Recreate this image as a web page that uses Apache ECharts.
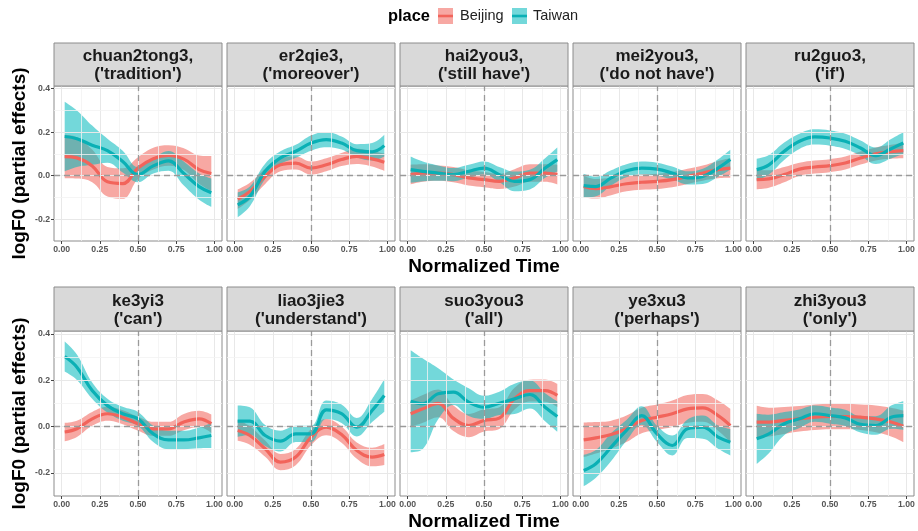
<!DOCTYPE html>
<html>
<head>
<meta charset="utf-8">
<script src="https://cdn.jsdelivr.net/npm/echarts@6/dist/echarts.min.js"></script>
<style>
  html, body { margin: 0; padding: 0; background: #fff; }
  #main { width: 918px; height: 531px; }
</style>
</head>
<body>
<div id="main"></div>
<script>
// 归一化时间上的取样点
var xs = [0.02, 0.1, 0.2, 0.3, 0.4, 0.5, 0.6, 0.7, 0.8, 0.9, 0.98];

var words = ['chuan2tong3,', 'er2qie3,', 'hai2you3,', 'mei2you3,', 'ru2guo3,',
             'ke3yi3', 'liao3jie3', 'suo3you3', 'ye3xu3', 'zhi3you3'];
var glosses = ["('tradition')", "('moreover')", "('still have')", "('do not have')", "('if')",
               "('can')", "('understand')", "('all')", "('perhaps')", "('only')"];

// Beijing 拟合值
var beijingFit = [
  [0.088, 0.082, 0.045, -0.028, -0.036, 0.035, 0.078, 0.093, 0.076, 0.028, 0.01],
  [-0.108, -0.072, -0.003, 0.05, 0.058, 0.035, 0.05, 0.074, 0.089, 0.077, 0.062],
  [0.005, 0.012, 0.012, 0.005, -0.01, -0.018, -0.026, -0.01, 0.012, 0.012, 0.005],
  [-0.05, -0.06, -0.05, -0.037, -0.03, -0.026, -0.018, -0.003, 0.012, 0.028, 0.035],
  [-0.018, -0.015, 0.005, 0.03, 0.04, 0.046, 0.058, 0.081, 0.1, 0.11, 0.115],
  [-0.024, -0.01, 0.033, 0.055, 0.04, 0.012, -0.01, -0.01, 0.019, 0.033, 0.012],
  [-0.017, -0.039, -0.096, -0.154, -0.132, -0.046, -0.003, -0.035, -0.104, -0.132, -0.121],
  [0.055, 0.076, 0.1, 0.035, 0.004, 0.026, 0.036, 0.12, 0.155, 0.155, 0.134],
  [-0.058, -0.049, -0.035, -0.01, 0.026, 0.04, 0.055, 0.076, 0.08, 0.047, 0.004],
  [0.019, 0.019, 0.026, 0.033, 0.04, 0.043, 0.043, 0.04, 0.033, 0.019, 0.001]
];
// Beijing 置信带半宽
var beijingCI = [
  [0.1, 0.095, 0.075, 0.068, 0.07, 0.05, 0.05, 0.047, 0.05, 0.065, 0.08],
  [0.045, 0.04, 0.035, 0.03, 0.03, 0.03, 0.03, 0.03, 0.035, 0.035, 0.04],
  [0.045, 0.04, 0.035, 0.035, 0.035, 0.035, 0.035, 0.04, 0.04, 0.04, 0.045],
  [0.05, 0.045, 0.04, 0.035, 0.035, 0.035, 0.035, 0.035, 0.035, 0.04, 0.045],
  [0.044, 0.04, 0.035, 0.03, 0.03, 0.03, 0.03, 0.03, 0.03, 0.032, 0.035],
  [0.04, 0.035, 0.03, 0.03, 0.03, 0.03, 0.03, 0.03, 0.035, 0.035, 0.04],
  [0.045, 0.04, 0.035, 0.035, 0.035, 0.035, 0.035, 0.035, 0.035, 0.04, 0.045],
  [0.057, 0.06, 0.06, 0.055, 0.05, 0.048, 0.047, 0.047, 0.047, 0.048, 0.05],
  [0.075, 0.068, 0.06, 0.057, 0.055, 0.055, 0.057, 0.06, 0.06, 0.065, 0.072],
  [0.07, 0.062, 0.058, 0.055, 0.055, 0.055, 0.055, 0.055, 0.058, 0.062, 0.068]
];
// Taiwan 拟合值
var taiwanFit = [
  [0.18, 0.17, 0.14, 0.115, 0.065, 0.005, 0.045, 0.068, 0.01, -0.05, -0.078],
  [-0.134, -0.095, 0.02, 0.082, 0.112, 0.15, 0.166, 0.15, 0.115, 0.11, 0.138],
  [0.028, 0.02, 0.012, 0.005, 0.02, 0.035, 0.005, -0.026, -0.018, 0.035, 0.074],
  [-0.046, -0.05, -0.01, 0.023, 0.035, 0.03, 0.012, -0.01, -0.003, 0.035, 0.074],
  [0.028, 0.05, 0.112, 0.158, 0.178, 0.173, 0.158, 0.127, 0.092, 0.124, 0.15],
  [0.302, 0.256, 0.155, 0.09, 0.055, 0.033, -0.032, -0.058, -0.058, -0.049, -0.039],
  [0.023, 0.023, -0.039, -0.063, -0.032, -0.032, 0.072, 0.055, -0.003, 0.069, 0.134],
  [0.109, 0.098, 0.141, 0.148, 0.105, 0.083, 0.1, 0.119, 0.138, 0.083, 0.043],
  [-0.19, -0.161, -0.089, -0.017, 0.047, -0.032, -0.082, -0.01, -0.003, -0.046, -0.068],
  [-0.053, -0.032, 0.012, 0.033, 0.055, 0.047, 0.037, 0.009, 0.004, 0.04, 0.047]
];
// Taiwan 置信带半宽
var taiwanCI = [
  [0.16, 0.13, 0.09, 0.055, 0.05, 0.035, 0.035, 0.045, 0.055, 0.06, 0.065],
  [0.057, 0.045, 0.035, 0.03, 0.03, 0.035, 0.035, 0.03, 0.03, 0.04, 0.05],
  [0.06, 0.045, 0.035, 0.03, 0.03, 0.03, 0.035, 0.045, 0.045, 0.045, 0.055],
  [0.055, 0.045, 0.035, 0.03, 0.03, 0.03, 0.03, 0.03, 0.035, 0.04, 0.045],
  [0.05, 0.045, 0.04, 0.035, 0.035, 0.035, 0.035, 0.035, 0.038, 0.045, 0.05],
  [0.065, 0.055, 0.035, 0.03, 0.03, 0.03, 0.035, 0.04, 0.04, 0.045, 0.054],
  [0.068, 0.06, 0.045, 0.045, 0.035, 0.035, 0.04, 0.04, 0.04, 0.05, 0.07],
  [0.22, 0.195, 0.11, 0.055, 0.06, 0.05, 0.05, 0.065, 0.06, 0.06, 0.065],
  [0.068, 0.06, 0.06, 0.045, 0.04, 0.035, 0.043, 0.04, 0.05, 0.05, 0.057],
  [0.108, 0.083, 0.05, 0.04, 0.035, 0.035, 0.035, 0.035, 0.04, 0.05, 0.062]
];

var xBreaks = [0, 0.25, 0.5, 0.75, 1];
var xMinor = [0.125, 0.375, 0.625, 0.875];
var yBreaks = [-0.2, 0, 0.2, 0.4];
var yMinor = [-0.1, 0.1, 0.3];

var places = ['Beijing', 'Taiwan'];
var lineColor = ['#F2645B', '#0AB0B5'];
var bandColor = ['rgba(242,105,97,0.58)', 'rgba(0,184,188,0.55)'];

var FONT = 'Liberation Sans, Arial, sans-serif';
var colLeft = [54, 227, 400, 573, 746];
var panelW = 168;
var rowTop = [86, 331];
var rowH = [155, 165];
var stripTop = [43, 287];

function pairs(vals) {
  return xs.map(function (x, i) { return [x, vals[i]]; });
}
// 置信带用 [y, x] 顺序，让堆叠落在 y 维上
function bandPairs(vals) {
  return xs.map(function (x, i) { return [vals[i], x]; });
}

function gridLineData() {
  var d = [];
  xBreaks.forEach(function (v) { d.push({ xAxis: v, lineStyle: { color: '#e8e8e8', width: 1, type: 'solid' } }); });
  xMinor.forEach(function (v) { d.push({ xAxis: v, lineStyle: { color: '#f2f2f2', width: 0.8, type: 'solid' } }); });
  yBreaks.forEach(function (v) { d.push({ yAxis: v, lineStyle: { color: '#e8e8e8', width: 1, type: 'solid' } }); });
  yMinor.forEach(function (v) { d.push({ yAxis: v, lineStyle: { color: '#f2f2f2', width: 0.8, type: 'solid' } }); });
  return d;
}

var grids = [], xAxes = [], yAxes = [], series = [], graphics = [];

for (var k = 0; k < 10; k++) {
  var r = Math.floor(k / 5), c = k % 5;
  grids.push({
    left: colLeft[c], top: rowTop[r], width: panelW, height: rowH[r],
    show: true, backgroundColor: '#fff', borderColor: '#8c8c8c', borderWidth: 1,
    containLabel: false, outerBoundsMode: 'none'
  });
  xAxes.push({
    type: 'value', gridIndex: k, min: -0.05, max: 1.05,
    axisLine: { show: false, onZero: false },
    splitLine: { show: false },
    axisTick: { show: true, customValues: xBreaks, length: 3, lineStyle: { color: '#444', width: 1 } },
    axisLabel: {
      customValues: xBreaks, margin: 4, color: '#555', fontSize: 8.7, fontWeight: 'bold', fontFamily: FONT,
      formatter: function (v) { return v.toFixed(2); }
    },
    name: c === 2 ? 'Normalized Time' : '', nameLocation: 'middle', nameGap: 16,
    nameTextStyle: { fontSize: 19, fontWeight: 'bold', color: '#000', fontFamily: FONT }
  });
  yAxes.push({
    type: 'value', gridIndex: k, min: -0.3, max: 0.412,
    axisLine: { show: false, onZero: false },
    splitLine: { show: false },
    axisTick: { show: c === 0, customValues: yBreaks, length: 3, lineStyle: { color: '#444', width: 1 } },
    axisLabel: {
      show: c === 0, customValues: yBreaks, margin: 4, color: '#555', fontSize: 8.7, fontWeight: 'bold', fontFamily: FONT,
      formatter: function (v) { return v.toFixed(1); }
    },
    name: c === 0 ? 'logF0 (partial effects)' : '', nameLocation: 'middle', nameGap: 25, nameRotate: 90,
    nameTextStyle: { fontSize: 19, fontWeight: 'bold', color: '#000', fontFamily: FONT }
  });

  // 背景网格线
  series.push({
    type: 'line', name: 'grid' + k, xAxisIndex: k, yAxisIndex: k, data: [], z: 1, silent: true,
    markLine: { silent: true, symbol: ['none', 'none'], label: { show: false }, animation: false, data: gridLineData() }
  });
  // 参考虚线
  series.push({
    type: 'line', name: 'ref' + k, xAxisIndex: k, yAxisIndex: k, data: [], z: 2, silent: true,
    markLine: {
      silent: true, symbol: ['none', 'none'], label: { show: false }, animation: false,
      lineStyle: { color: '#9a9a9a', width: 1.3, type: [6, 4] },
      data: [{ xAxis: 0.5 }, { yAxis: 0 }]
    }
  });

  var fits = [beijingFit[k], taiwanFit[k]];
  var cis = [beijingCI[k], taiwanCI[k]];
  // 置信带
  for (var p = 0; p < 2; p++) {
    var lo = fits[p].map(function (v, i) { return +(v - cis[p][i]).toFixed(4); });
    var wd = cis[p].map(function (v) { return +(2 * v).toFixed(4); });
    series.push({
      type: 'line', name: places[p] + ' lo ' + k, xAxisIndex: k, yAxisIndex: k,
      stack: 'band' + p + '_' + k, stackStrategy: 'all', data: bandPairs(lo), encode: { x: 1, y: 0 },
      smooth: 0.4, symbol: 'none', lineStyle: { opacity: 0 }, z: 3, silent: true
    });
    series.push({
      type: 'line', name: places[p] + ' band ' + k, xAxisIndex: k, yAxisIndex: k,
      stack: 'band' + p + '_' + k, stackStrategy: 'all', data: bandPairs(wd), encode: { x: 1, y: 0 },
      smooth: 0.4, symbol: 'none', lineStyle: { opacity: 0 },
      areaStyle: { color: bandColor[p], opacity: 1 }, z: 3, silent: true
    });
  }
  // 拟合曲线
  for (var q = 0; q < 2; q++) {
    series.push({
      type: 'line', name: places[q], xAxisIndex: k, yAxisIndex: k, data: pairs(fits[q]),
      smooth: 0.4, symbol: 'none', lineStyle: { color: lineColor[q], width: 3.2 }, z: 4, silent: true
    });
  }

  // 分面标题条
  graphics.push({
    type: 'rect', shape: { x: colLeft[c], y: stripTop[r], width: panelW, height: rowTop[r] - stripTop[r] },
    style: { fill: '#d9d9d9', stroke: '#8c8c8c', lineWidth: 1 }, z: 10
  });
  graphics.push({
    type: 'text', x: colLeft[c] + panelW / 2, y: (stripTop[r] + rowTop[r]) / 2 + 1,
    style: {
      text: words[k] + '\n' + glosses[k], align: 'center', verticalAlign: 'middle',
      fontSize: 17, fontWeight: 'bold', fontFamily: FONT, fill: '#1a1a1a', lineHeight: 18
    }, z: 11
  });
}

// 图例
graphics.push({ type: 'text', x: 388, y: 16, style: { text: 'place', fontSize: 16.4, fontWeight: 'bold', fontFamily: FONT, fill: '#000', verticalAlign: 'middle' }, z: 11 });
var keyX = [438, 512];
var labX = [460, 533];
for (var g = 0; g < 2; g++) {
  graphics.push({ type: 'rect', shape: { x: keyX[g], y: 8, width: 15, height: 16 }, style: { fill: bandColor[g] }, z: 11 });
  graphics.push({ type: 'line', shape: { x1: keyX[g], y1: 16, x2: keyX[g] + 15, y2: 16 }, style: { stroke: lineColor[g], lineWidth: 2.6 }, z: 12 });
  graphics.push({ type: 'text', x: labX[g], y: 16, style: { text: places[g], fontSize: 14.5, fontFamily: FONT, fill: '#222', verticalAlign: 'middle' }, z: 11 });
}

var chart = echarts.init(document.getElementById('main'));
chart.setOption({
  animation: false,
  backgroundColor: '#fff',
  textStyle: { fontFamily: FONT },
  grid: grids,
  xAxis: xAxes,
  yAxis: yAxes,
  series: series,
  graphic: graphics
});
</script>
</body>
</html>
